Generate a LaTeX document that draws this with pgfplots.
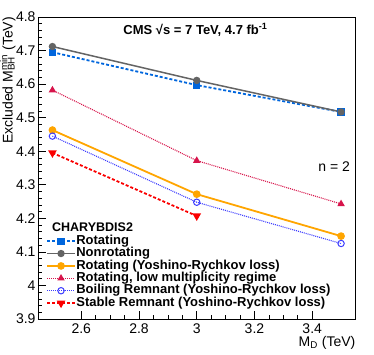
\documentclass[border=0pt]{standalone}
\usepackage{fontspec}
\setmainfont{Liberation Sans}
\usepackage{pgfplots}
\pgfplotsset{compat=1.18}

\definecolor{rotblue}{RGB}{0,102,221}
\definecolor{nongray}{RGB}{100,100,100}
\definecolor{yrorange}{RGB}{255,165,0}
\definecolor{lowmult}{RGB}{215,20,75}
\definecolor{boilblue}{RGB}{60,60,255}
\definecolor{stabred}{RGB}{250,0,0}

\begin{document}
\begin{tikzpicture}
\begin{axis}[
  scale only axis,
  width=317.5pt, height=302pt,
  xmin=2.45, xmax=3.55,
  ymin=3.9, ymax=4.8,
  xtick={2.6,2.8,3.0,3.2,3.4},
  xticklabels={2.6,2.8,3,3.2,3.4},
  ytick={3.9,4.0,4.1,4.2,4.3,4.4,4.5,4.6,4.7,4.8},
  yticklabels={3.9,4,4.1,4.2,4.3,4.4,4.5,4.6,4.7,4.8},
  minor x tick num=3,
  minor y tick num=4,
  tick align=inside,
  xtick pos=bottom, ytick pos=left,
  major tick length=8pt, minor tick length=4pt,
  tick style={black, line width=0.6pt},
  axis line style={line width=0.8pt},
  /pgf/number format/assume math mode=true,
  tick label style={font=\fontsize{14}{14}\selectfont},
  xticklabel style={yshift=-1pt},
  yticklabel style={xshift=1pt},
  label style={font=\fontsize{14}{14}\selectfont},
  xlabel={M\textsubscript{D} (TeV)},
  xlabel style={at={(axis description cs:1,-0.08)}, anchor=east, inner sep=0pt},
  ylabel={Excluded M\rlap{\textsubscript{BH}}\textsuperscript{min} (TeV)},
  ylabel style={at={(axis description cs:-0.095,1)}, anchor=east, inner sep=0pt},
  legend image code/.code={
    \draw[mark repeat=2,mark phase=2,#1] plot coordinates {(0pt,0pt) (14pt,0pt) (28pt,0pt)};
  },
  legend cell align=left,
  legend style={at={(rel axis cs:0.025,0.279)}, anchor=north west, draw=none, fill=none,
    inner sep=0pt, row sep=0pt,
    font=\bfseries\fontsize{13}{13}\selectfont,
    nodes={inner sep=0.4pt, text height=9pt, text depth=2.6pt},
    /tikz/every even column/.append style={column sep=2pt}},
]
\addplot[rotblue, line width=1.8pt, dash pattern=on 3pt off 2pt, mark=square*, mark size=2.7pt, mark options={solid}] coordinates {
  (2.5,4.695) (3.0,4.597) (3.5,4.517)
};
\addlegendentry{Rotating}
\addplot[nongray, line width=1.5pt, mark=*, mark size=2.9pt] coordinates {
  (2.5,4.712) (3.0,4.611) (3.5,4.517)
};
\addlegendentry{Nonrotating}
\addplot[yrorange, line width=1.8pt, mark=*, mark size=2.9pt] coordinates {
  (2.5,4.463) (3.0,4.272) (3.5,4.147)
};
\addlegendentry{Rotating (Yoshino-Rychkov loss)}
\addplot[lowmult, line width=1.1pt, dash pattern=on 1pt off 1pt, mark=triangle*, mark size=3.2pt, mark options={solid}] coordinates {
  (2.5,4.582) (3.0,4.372) (3.5,4.243)
};
\addlegendentry{Rotating, low multiplicity regime}
\addplot[boilblue, line width=1.1pt, dash pattern=on 1pt off 1pt, mark=o, mark size=3.2pt, mark options={solid, line width=1pt}] coordinates {
  (2.5,4.445) (3.0,4.248) (3.5,4.125)
};
\addlegendentry{Boiling Remnant (Yoshino-Rychkov loss)}
\addplot[stabred, line width=1.8pt, dash pattern=on 3pt off 2pt, mark=triangle*, mark size=3.2pt, mark options={solid, rotate=180}] coordinates {
  (2.5,4.395) (3.0,4.207)
};
\addlegendentry{Stable Remnant (Yoshino-Rychkov loss)}
\node[anchor=west, inner sep=0pt, font=\bfseries\fontsize{12.5}{12.5}\selectfont] at (rel axis cs:0.044,0.305) {CHARYBDIS2};
\node[anchor=center, inner sep=0pt, font=\bfseries\fontsize{13}{13}\selectfont] at (rel axis cs:0.496,0.957) {CMS √s = 7 TeV, 4.7 fb\textsuperscript{-1}};
\node[anchor=east, inner sep=0pt, font=\fontsize{14}{14}\selectfont] at (rel axis cs:0.983,0.503) {n = 2};
\coordinate (sw) at (rel axis cs:0,0);
\coordinate (ne) at (rel axis cs:1,1);
\end{axis}
\pgfresetboundingbox
\path ([shift={(-38pt,-36pt)}]sw) rectangle ([shift={(18.5pt,17pt)}]ne);
\end{tikzpicture}
\end{document}
